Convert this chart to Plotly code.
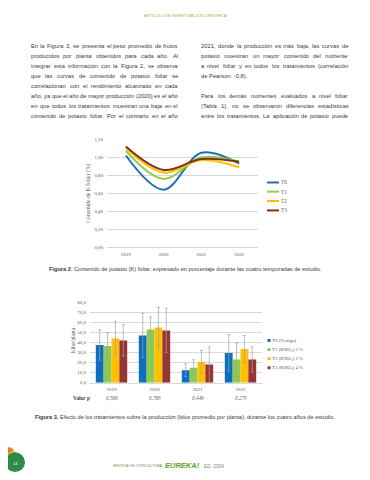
import unicodedata
import plotly.graph_objects as go

# The page body has an 8px default margin, so the figure is drawn 8px in
# from the top-left corner; all placements below are in window pixels.
OFF = 8
W, H = 370 - OFF, 480 - OFF
def X(p): return (p - OFF) / W
def Y(p): return 1 - (p - OFF) / H

# ---------------- data ----------------
years = ["2019", "2020", "2021", "2022"]

# Figure 2: foliar K content (%)
k_names = ["T0", "T1", "T2", "T3"]
k_T0 = [1.02, 0.64, 1.05, 0.93]
k_T1 = [1.07, 0.76, 1.00, 0.95]
k_T2 = [1.10, 0.83, 0.97, 0.89]
k_T3 = [1.12, 0.86, 0.98, 0.95]

# Figure 3: production (kg/plant) and error bars
prod_names = ["T0 (Testigo)", "T1 (KNO₃) 2 %", "T2 (KNO₃) 3 %", "T3 (KNO₃) 4 %"]
prod_T0 = [37.5, 47.0, 12.5, 29.6]
prod_T1 = [36.5, 53.0, 14.8, 23.0]
prod_T2 = [44.0, 55.0, 20.6, 33.4]
prod_T3 = [42.0, 52.0, 18.0, 23.0]
err_T0 = [15.0, 22.0, 6.3, 18.0]
err_T1 = [13.4, 12.4, 8.0, 16.6]
err_T2 = [17.0, 20.0, 11.4, 13.5]
err_T3 = [15.5, 22.0, 17.7, 12.7]
p_values = ["0,569", "0,783", "0,449", "0,273"]

left_text = [
    "En la Figura 3, se presenta el peso promedio de frutos",
    "producidos por planta obtenidos para cada año. Al",
    "integrar esta información con la Figura 2, se observa",
    "que las curvas de contenido de potasio foliar se",
    "correlacionan con el rendimiento alcanzado en cada",
    "año, ya que el año de mayor producción (2020) es el año",
    "en que todos los tratamientos muestran una baja en el",
    "contenido de potasio foliar. Por el contrario en el año",
]
left_justify = [True] * 8
right_text = [
    "2021, donde la producción es más baja, las curvas de",
    "potasio muestran un mayor contenido del nutriente",
    "a nivel foliar y en todos los tratamientos (correlación",
    "de Pearson: -0,8).",
    "",
    "Para los demás nutrientes evaluados a nivel foliar",
    "(Tabla 1), no se observaron diferencias estadísticas",
    "entre los tratamientos. La aplicación de potasio puede",
]
right_justify = [True, True, True, False, False, True, True, True]

caption2 = ("Figura 2.", " Contenido de potasio (K) foliar, expresado en porcentaje durante las cuatro temporadas de estudio.")
caption3 = ("Figura 3.", " Efecto de los tratamientos sobre la producción (kilos promedio por planta), durante los cuatro años de estudio.")

# ---------------- styles ----------------
line_colors = ["#1F6DB5", "#92CD55", "#FFC000", "#7E3510"]
bar_colors = ["#0F6FBF", "#8DCB4E", "#FFC000", "#953634"]
serif = "Liberation Serif, Times New Roman, serif"
sans = "Liberation Sans, Arial, sans-serif"
axis_grey = "#595959"
grid = "#D9D9D9"
text_col = "#3A3A3A"

# Arial / Liberation Sans advance widths (em)
AW = {' ': .278, 'a': .556, 'b': .556, 'c': .5, 'd': .556, 'e': .556, 'f': .278, 'g': .556, 'h': .556,
      'i': .222, 'j': .222, 'k': .5, 'l': .222, 'm': .833, 'n': .556, 'o': .556, 'p': .556, 'q': .556,
      'r': .333, 's': .5, 't': .278, 'u': .556, 'v': .5, 'w': .722, 'x': .5, 'y': .5, 'z': .5,
      ',': .278, '.': .278, '(': .333, ')': .333, ':': .278, '-': .333, '%': .889, '!': .278,
      'A': .667, 'B': .667, 'C': .722, 'D': .722, 'E': .667, 'F': .611, 'G': .778, 'H': .722, 'I': .278,
      'K': .667, 'L': .556, 'M': .833, 'N': .722, 'O': .778, 'P': .667, 'R': .722, 'S': .667, 'T': .611,
      'U': .722, 'V': .667, 'Í': .278, 'Ó': .778}
def em(s):
    tot = 0.0
    for ch in s:
        if ch in AW:
            tot += AW[ch]
        elif ch.isdigit():
            tot += .556
        else:
            base = unicodedata.normalize("NFD", ch)[0]
            tot += AW.get(base, .556)
    return tot

fig = go.Figure()

k_series = [k_T0, k_T1, k_T2, k_T3]
for name, vals, c in zip(k_names, k_series, line_colors):
    fig.add_trace(go.Scatter(x=years, y=vals, name=name, mode="lines",
                             line=dict(color=c, width=2, shape="spline", smoothing=1.0),
                             xaxis="x", yaxis="y", showlegend=False))

p_series = [prod_T0, prod_T1, prod_T2, prod_T3]
e_series = [err_T0, err_T1, err_T2, err_T3]
for name, vals, errs, c in zip(prod_names, p_series, e_series, bar_colors):
    fig.add_trace(go.Bar(x=years, y=vals, name=name, marker=dict(color=c, line=dict(width=0)),
                         error_y=dict(type="data", array=errs, color="#A0A0A0", thickness=0.7, width=1.5),
                         xaxis="x2", yaxis="y2", showlegend=False))

annotations = []
shapes = []

def txt(text, x, y, size, family=sans, color=text_col, xanchor="left", **kw):
    d = dict(text=text, x=X(x), y=Y(y), xref="paper", yref="paper", showarrow=False,
             xanchor=xanchor, yanchor="middle", borderpad=0, borderwidth=0,
             font=dict(family=family, size=size, color=color))
    d.update(kw)
    annotations.append(d)

# header
hdr = "ARTÍCULO DE INVESTIGACIÓN CIENTÍFICA"
txt(hdr, 185, 14, 83 / em(hdr), color="#8DB545", xanchor="center")

# body text (justified, word by word)
x_left, x_right, col_w = 31, 201, 147
body_lines = [l for l, j in zip(left_text + right_text, left_justify + right_justify) if j]
body_size = min(col_w / em(l) for l in body_lines)
y0, dy = 44.5, 10.15

def paragraph(lines, flags, x0):
    for i, (line, just) in enumerate(zip(lines, flags)):
        if not line:
            continue
        yy = y0 + i * dy
        if not just:
            txt(line, x0, yy, body_size)
            continue
        words = line.split(" ")
        widths = [em(w) * body_size for w in words]
        gap = (col_w - sum(widths)) / (len(words) - 1)
        x = x0
        for w, wd in zip(words, widths):
            txt(w, x, yy, body_size)
            x += wd + gap

paragraph(left_text, left_justify, x_left)
paragraph(right_text, right_justify, x_right)

# axis titles
txt("Contenido de K foliar (%)", 89, 194, 5.6, family=serif, color=axis_grey, xanchor="center", textangle=-90)
txt("Kilos/planta", 72.5, 343, 5.2, family=serif, color=axis_grey, xanchor="center", textangle=-90)

# legend 1 (compact, drawn as swatches + labels)
leg1_y = [182.7, 192.0, 201.5, 211.0]
for name, c, yy in zip(k_names, line_colors, leg1_y):
    shapes.append(dict(type="line", xref="paper", yref="paper", x0=X(267), x1=X(279),
                       y0=Y(yy), y1=Y(yy), line=dict(color=c, width=2)))
    txt(name, 280.5, yy, 5.2, family=serif, color=axis_grey)

# legend 2
leg2_y = [342.7, 352.0, 361.2, 370.4]
for name, c, yy in zip(prod_names, bar_colors, leg2_y):
    shapes.append(dict(type="rect", xref="paper", yref="paper", x0=X(267.5), x1=X(270.5),
                       y0=Y(yy + 1.5), y1=Y(yy - 1.5), line=dict(width=0), fillcolor=c))
    txt(name, 272, yy, 4.9, family=serif, color=axis_grey)

# captions (bold label + regular text, sized to the measured width)
def caption(parts, x0, x1, yy):
    e = em(parts[0]) * 1.08 + em(parts[1])
    size = (x1 - x0) / e
    txt("<b>" + parts[0] + "</b>" + parts[1], (x0 + x1) / 2, yy, size, xanchor="center")

caption(caption2, 48, 322, 270.7)
caption(caption3, 34, 335, 420.7)

# p-value row
txt("<b>Valor p</b>", 81.5, 400.7, 5.4, family=serif, color="#404040", xanchor="center")
for i, pv in enumerate(p_values):
    annotations.append(dict(text="<i>" + pv + "</i>", x=i, y=Y(400.7), xref="x2", yref="paper",
                            showarrow=False, xanchor="center", yanchor="middle",
                            font=dict(family=serif, size=5.2, color=axis_grey)))

# footer
f1 = "REVISTA DE CITRICULTURA"
txt(f1, 113, 470, 50 / em(f1), color="#7A8F5A")
txt("<b><i>EUREKA!</i></b>", 182.5, 469.5, 7.5, color="#5E9F2A", xanchor="center")
f2 = "ED. 2024"
txt(f2, 204, 470, 20 / em(f2), color="#7A8F5A")

# logo (decorative)
shapes.append(dict(type="circle", xref="paper", yref="paper", x0=X(4), x1=X(14), y0=Y(461), y1=Y(451),
                   fillcolor="#EE7B2A", line=dict(width=0)))
shapes.append(dict(type="circle", xref="paper", yref="paper", x0=X(8), x1=X(18), y0=Y(465), y1=Y(455),
                   fillcolor="#F4C62F", line=dict(width=0)))
shapes.append(dict(type="circle", xref="paper", yref="paper", x0=X(5), x1=X(25), y0=Y(476), y1=Y(456),
                   fillcolor="#2F8A45", line=dict(width=0)))
txt("14", 15, 467, 4, color="white", xanchor="center")

tickfont1 = dict(family=serif, size=4.9, color=axis_grey)
tickfont2 = dict(family=serif, size=5.0, color=axis_grey)

fig.update_layout(
    width=W, height=H, autosize=False,
    margin=dict(l=0, r=0, t=0, b=0),
    paper_bgcolor="white", plot_bgcolor="white",
    separators=",.",
    showlegend=False,
    barmode="group", bargap=0.27, bargroupgap=0.0,
    annotations=annotations, shapes=shapes,
    xaxis=dict(domain=[X(107), X(258)], anchor="y", type="category", range=[-0.5, 3.5],
               tickfont=tickfont1, showgrid=False, showline=True, linecolor=grid, linewidth=0.8,
               ticks="", ticklabelstandoff=2),
    yaxis=dict(domain=[Y(248.3), Y(139)], anchor="x", range=[0, 1.2], dtick=0.2, tickformat=".2f",
               tickfont=tickfont1, showgrid=True, gridcolor=grid, gridwidth=0.8, zeroline=False,
               showline=False, ticks="", ticklabelstandoff=3),
    xaxis2=dict(domain=[X(90), X(262)], anchor="y2", type="category", range=[-0.5, 3.5],
                tickfont=tickfont2, showgrid=False, showline=True, linecolor=grid, linewidth=0.8,
                ticks="", ticklabelstandoff=1),
    yaxis2=dict(domain=[Y(385.5), Y(304)], anchor="x2", range=[0, 80], dtick=10, tickformat=".1f",
                tickfont=tickfont2, showgrid=True, gridcolor=grid, gridwidth=0.8, zeroline=False,
                showline=False, ticks="", ticklabelstandoff=3),
)

fig.write_html("out.html")
